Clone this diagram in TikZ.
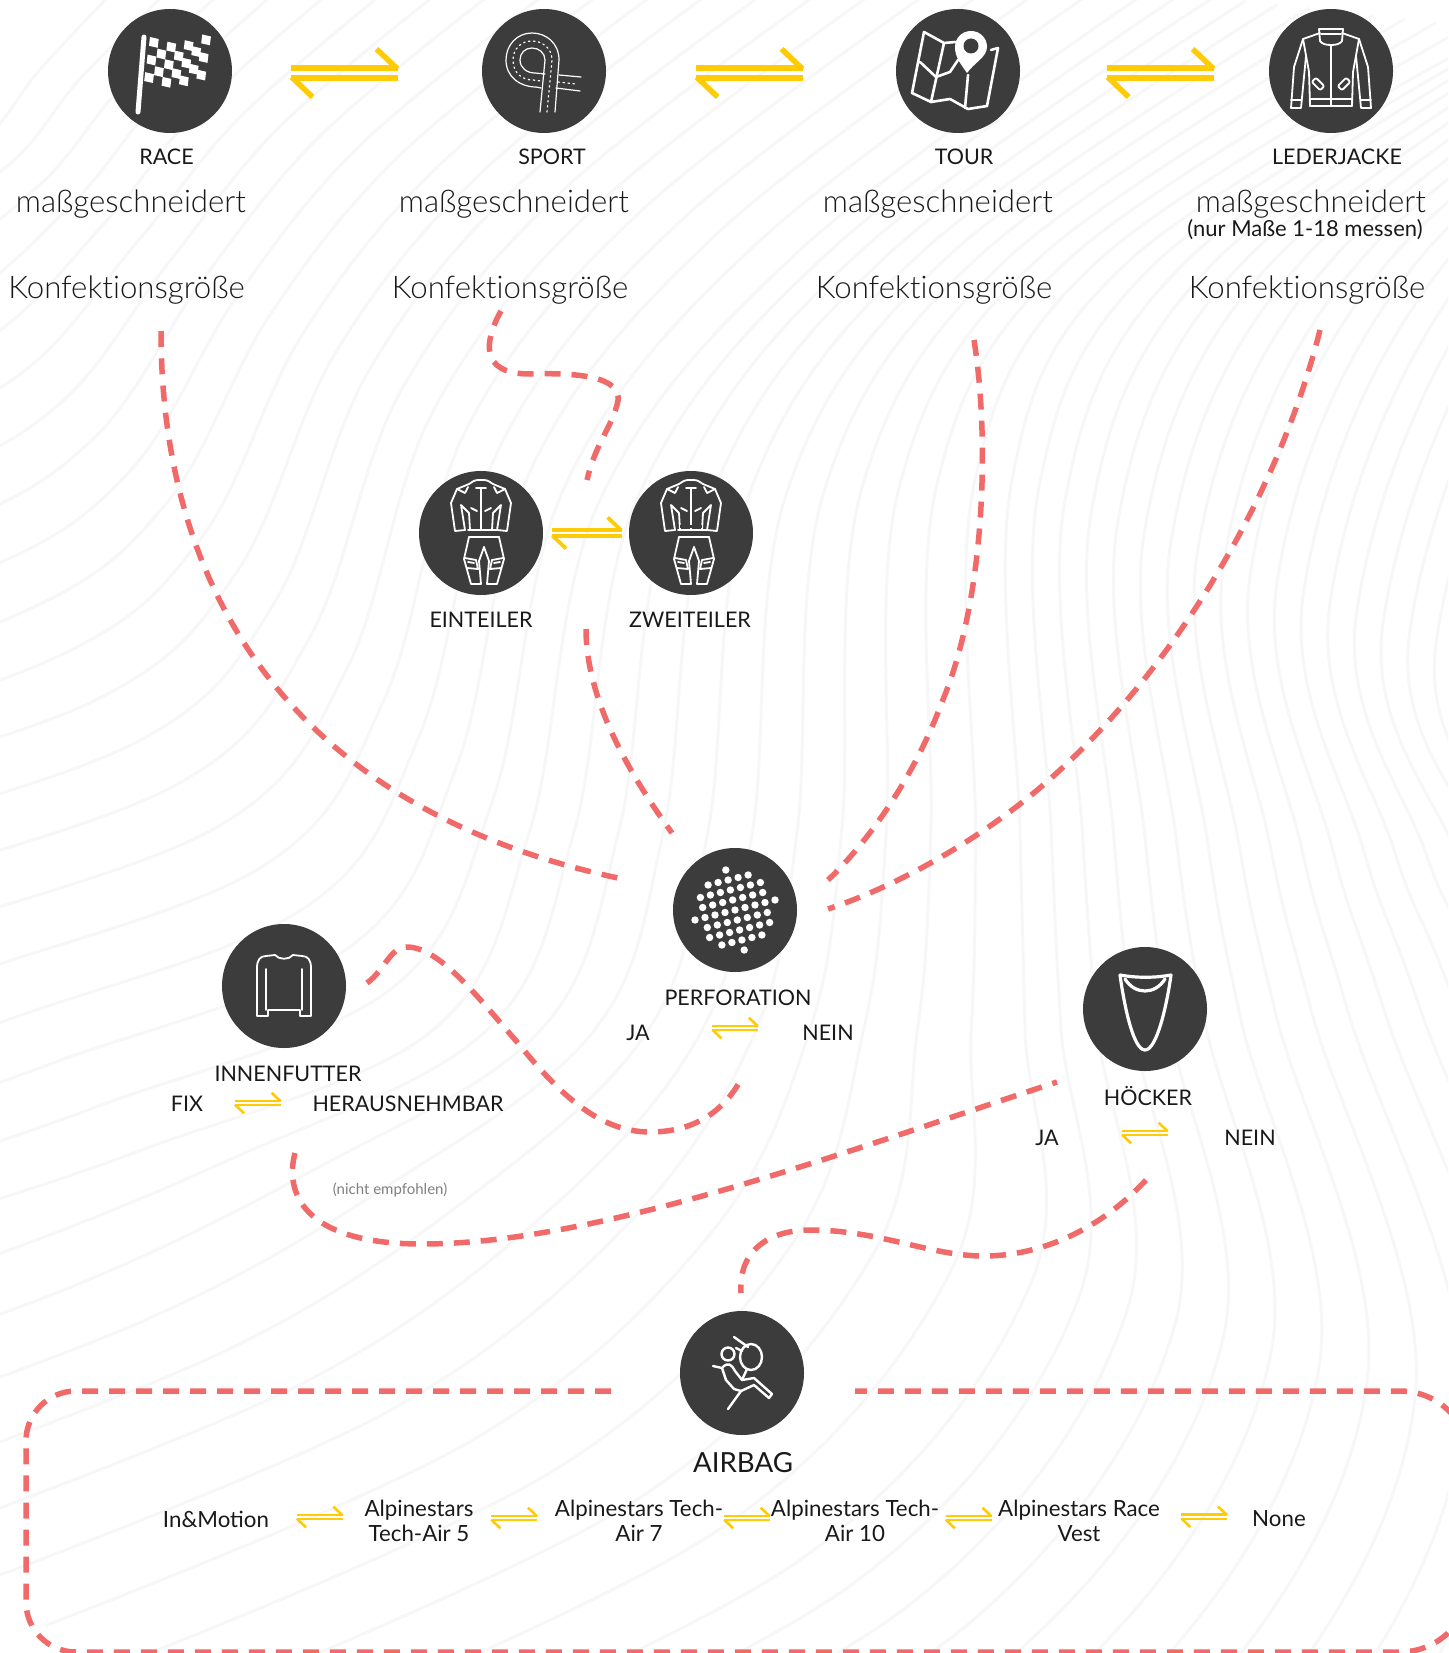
\documentclass[tikz,border=0pt]{standalone}
\usepackage{fontspec}
\setmainfont{Lato}
\newfontfamily\lightfont[Ligatures=NoCommon]{Lato Light}
\usetikzlibrary{calc}

\definecolor{iconbg}{HTML}{3C3C3C}
\definecolor{wavecol}{HTML}{F7F7F7}
\definecolor{routecol}{HTML}{F16A6A}
\definecolor{harpcol}{HTML}{FFCB05}

\tikzset{
	iconbox/.style={circle, fill=iconbg, minimum size=124pt, inner sep=0pt},
	iconline/.style={draw=white, line width=1.8pt, line cap=round, line join=round},
	route/.style={draw=routecol, line width=5.5pt, dash pattern=on 16pt off 11pt},
	caption/.style={inner sep=0pt, align=center, text=black!90, font=\fontsize{21.5}{25}\selectfont},
	optiontext/.style={caption, font=\fontsize{22.3}{25}\selectfont},
	bigtext/.style={inner sep=0pt, text=black!90, font=\lightfont\fontsize{31.2}{34}\selectfont},
	pics/harpoons/.style={code={
		\draw[harpcol] (-53.5,-5) -- (53.5,-5);
		\draw[harpcol] (53,-4) -- (32,-24);
		\draw[harpcol] (-53.5,5) -- (53.5,5);
		\draw[harpcol] (-53,4) -- (-32,24);
	}},
	pics/flagicon/.style={code={
		\draw[iconline, line width=5pt] (-26,-34) -- (-32,41);
		\foreach \i in {0,...,6}
			\foreach \j in {0,...,4} {
				\ifodd\numexpr\i+\j\relax\else
				\pgfmathsetmacro{\fx}{-20+\i*8.7-\j*1.2}
				\pgfmathsetmacro{\fy}{-34+\j*8.8+5*sin(\i*35)}
				\fill[white] (\fx,\fy) -- ++(8.7,2) -- ++(-1,8.8) -- ++(-8.7,-2) -- cycle;
				\fi
			}
	}},
	pics/roadicon/.style={code={
		\draw[iconline, line width=1.2pt] (11,41) -- (15,-11) .. controls (15,-28) and (2,-38) .. (-12,-38) .. controls (-27,-38) and (-38,-26) .. (-38,-11) .. controls (-38,6) and (-24,16) .. (-8,16) -- (-3,17);
		\draw[iconline, line width=1.2pt] (-4,41) -- (1,-11) .. controls (1,-18) and (-5,-23) .. (-12,-23) .. controls (-19,-23) and (-24,-18) .. (-24,-11) .. controls (-24,-3) and (-17,2) .. (-9,2) -- (1,3);
		\draw[iconline, line width=1.2pt, dash pattern=on 1.5pt off 3.5pt] (3,41) -- (8,-11) .. controls (8,-23) and (-2,-30) .. (-12,-30) .. controls (-23,-30) and (-31,-22) .. (-31,-11) .. controls (-31,2) and (-22,9) .. (-11,9) -- (-3,10);
		\draw[iconline, line width=1.2pt] (15,4) -- (37,6) (12,17) -- (36,20);
		\draw[iconline, line width=1.2pt, dash pattern=on 1.5pt off 3.5pt] (14,11) -- (32,13);
	}},
	pics/mapicon/.style={code={
		\draw[iconline, line width=2.6pt] (-3,-29) -- (-14,-28) -- (-34,-39) -- (-46,22) -- (-27,31) -- (-8,28) -- (10,38) -- (29,35) -- (40,-23) -- (33,-21);
		\draw[iconline, line width=2.6pt] (-14,-28) -- (-27,31) (10,4) -- (7,37);
		\draw[iconline, line width=2.6pt] (-38,-9) -- (-22,6) -- (-8,1) -- (0,-11);
		\fill[white] (9,2) .. controls (2,-8) and (-3,-14) .. (-3,-24) .. controls (-3,-33) and (4,-40) .. (13,-40) .. controls (22,-40) and (29,-33) .. (29,-24) .. controls (29,-14) and (16,-8) .. (9,2) -- cycle;
		\fill[iconbg] (13,-25) circle (7.5);
	}},
	pics/jacketicon/.style={code={
		\foreach \s in {1,-1} {
			\begin{scope}[xscale=\s]
				\draw[iconline] (-12,-42) -- (-11,-30) .. controls (-9,-27) and (-5,-26) .. (0,-26);
				\draw[iconline] (-11,-38) -- (-28,-32) -- (-37,-4) -- (-40,37) -- (-30,37) -- (-25,-15);
				\draw[iconline] (-28,-32) -- (-22,1) -- (-21,35);
				\draw[iconline] (-40,29) -- (-30,29);
				\draw[iconline, rotate around={-45:(-13,13)}, rounded corners=2pt] (-19,10) rectangle (-7,16);
			\end{scope}
		}
		\draw[iconline] (-12,-42) -- (12,-42) (-10,-37) -- (10,-37);
		\draw[iconline] (-21,28) rectangle (21,35);
		\draw[iconline] (0,-26) -- (0,35);
	}},
	pics/suiticon/.style={code={
		\foreach \s in {1,-1} {
			\begin{scope}[xscale=\s]
				\draw[iconline] (0,-53) .. controls (-6,-53) .. (-12,-49) -- (-24,-44) -- (-30,-30) -- (-26,-2) -- (-16,-3) -- (-20,-28) -- (-12,-20) -- (-11,-3);
				\draw[iconline] (-24,-44) -- (-16,-40) -- (-13,-46);
				\draw[iconline] (-10,-25) -- (-4,-22);
			\end{scope}
			\begin{scope}[xshift=3pt, xscale=\s]
				\draw[iconline] (-15,4) -- (-20,26) -- (-13,51) -- (-3,51) -- (-5,28) -- (0,14);
				\draw[iconline] (-19,25) -- (-8,27) -- (-6,36) -- (-17,35);
				\draw[iconline] (-16,29) -- (-10,30);
			\end{scope}
		}
		\draw[iconline] (-5,-45) -- (5,-45) (0,-45) -- (0,-4);
		\draw[iconline] (-13,-3) -- (17,-3) (-12,4) -- (18,4);
	}},
	pics/sweatericon/.style={code={
		\draw[iconline] (-27,30) -- (-27,-18) .. controls (-27,-26) and (-24,-30) .. (-18,-30) -- (-9,-31) .. controls (-5,-26) and (5,-26) .. (9,-31) -- (18,-30) .. controls (24,-30) and (27,-26) .. (27,-18) -- (27,30) -- (16,30) -- (16,24) -- (-16,24) -- (-16,30) -- cycle;
		\draw[iconline] (-18,-17) -- (-18,24) (18,-17) -- (18,24);
	}},
	pics/holesicon/.style={code={
		\foreach \i in {-5,...,5}
			\foreach \j in {-5,...,5} {
				\pgfmathsetmacro{\hx}{\i*10+\j*2.3}
				\pgfmathsetmacro{\hy}{-\i*2.5+\j*10}
				\pgfmathparse{\hx*\hx+\hy*\hy<1720?1:0}
				\ifnum\pgfmathresult=1
				\fill[white] (\hx,\hy) circle (3.7);
				\fi
			}
	}},
	pics/humpicon/.style={code={
		\draw[iconline, line width=3.2pt] (-25,-34) .. controls (-21,-5) and (-12,41) .. (0,41) .. controls (12,41) and (22,-5) .. (26,-34) .. controls (10,-31) and (-9,-31) .. (-25,-34) -- cycle;
		\draw[iconline, line width=3.2pt] (-20,-30) .. controls (-10,-14) and (10,-14) .. (20,-30);
	}},
	pics/airbagicon/.style={code={
		\draw[iconline, line width=2.4pt] (-14,-19) circle (6.5);
		\draw[iconline, line width=2.4pt] (9,-16) ellipse (11 and 13);
		\draw[iconline, line width=2.4pt] (-8,-36) -- (6,-26) (-6,-25) -- (0,-22);
		\draw[iconline, line width=2.4pt] (-29,-7) -- (-20,-5) .. controls (-14,-12) and (-10,-8) .. (-7,-2) -- (0,7) -- (12,5) -- (30,21) -- (27,25) -- (12,12) -- (-1,18) -- (-14,36);
		\draw[iconline, line width=2.4pt] (-20,-5) -- (-16,7) -- (-8,16) -- (-1,18);
		\draw[iconline, line width=2.4pt] (0,7) -- (5,-4);
	}}
}

\begin{document}
\begin{tikzpicture}[x=1pt,y=-1pt,>=latex]
	\useasboundingbox (0,0) rectangle (1448,1653);

	% faint contour lines behind everything
	\begin{scope}
		\clip (0,0) rectangle (1448,1653);
		\foreach \k/\a/\b/\c/\d/\e/\f/\g/\h in {
			{0/(60,-10)/(0,60)/(-60,130)/(-200,180)/(-400,200)/(-800,300)/(-1000,400)/(-1200,500)},
			{1/(1150,-10)/(800,250)/(600,500)/(530,830)/(433,1030)/(150,1147)/(-100,1230)/(-400,1320)},
			{2/(1500,30)/(1130,260)/(1012,480)/(1020,830)/(1025,1030)/(1031,1283)/(800,1560)/(300,1800)},
			{3/(2000,-100)/(1600,250)/(1436,644)/(1520,860)/(1600,1000)/(1800,1500)/(1700,1900)/(1500,2200)}}
			\path \a coordinate (wave\k a) \b coordinate (wave\k b) \c coordinate (wave\k c) \d coordinate (wave\k d) \e coordinate (wave\k e) \f coordinate (wave\k f) \g coordinate (wave\k g) \h coordinate (wave\k h);
		\foreach \ka/\kb/\n in {0/1/20,1/2/11,2/3/16}
			\foreach \i in {1,...,\n} {
				\pgfmathsetmacro{\t}{\i/\n}
				\draw[wavecol, line width=3pt] plot[smooth, tension=.6] coordinates {
					($(wave\ka a)!\t!(wave\kb a)$) ($(wave\ka b)!\t!(wave\kb b)$)
					($(wave\ka c)!\t!(wave\kb c)$) ($(wave\ka d)!\t!(wave\kb d)$)
					($(wave\ka e)!\t!(wave\kb e)$) ($(wave\ka f)!\t!(wave\kb f)$)
					($(wave\ka g)!\t!(wave\kb g)$) ($(wave\ka h)!\t!(wave\kb h)$)};
			}
	\end{scope}

	\node [iconbox] (race) at (170,71) {};
	\node [iconbox] (sport) at (544,71) {};
	\node [iconbox] (tour) at (958,71) {};
	\node [iconbox] (jacket) at (1331,71) {};
	\node [iconbox] (onepiece) at (481,533) {};
	\node [iconbox] (twopiece) at (691,533) {};
	\node [iconbox] (perforation) at (735,910) {};
	\node [iconbox] (lining) at (284,986) {};
	\node [iconbox] (hump) at (1145,1009) {};
	\node [iconbox] (airbag) at (742,1373) {};

	\pic at (race) {flagicon};
	\pic at (sport) {roadicon};
	\pic at (tour) {mapicon};
	\pic at (jacket) {jacketicon};
	\pic at (onepiece) {suiticon};
	\pic at (twopiece) {suiticon};
	\draw[iconbg, line width=3pt] ([shift={(-11,-7)}]twopiece.center) -- ([shift={(11,-7)}]twopiece.center);
	\pic at (perforation) {holesicon};
	\pic at (lining) {sweatericon};
	\pic at (hump) {humpicon};
	\pic at (airbag) {airbagicon};

	\node [caption] (raceL) at (166.5,157) {RACE};
	\node [caption] (sportL) at (552,157) {SPORT};
	\node [caption] (tourL) at (964,157) {TOUR};
	\node [caption] (jacketL) at (1337,157) {LEDERJACKE};
	\foreach \n/\x in {A/131,B/514,C/938,D/1311}
		\node [bigtext] (made\n) at (\x,204) {maßgeschneidert};
	\node [caption, font=\fontsize{22}{24}\selectfont] (note) at (1305,230) {(nur Maße 1-18 messen)};
	\foreach \n/\x in {A/126.5,B/510,C/934,D/1307}
		\node [bigtext] (size\n) at (\x,290) {Konfektionsgröße};

	\node [caption] (onepieceL) at (481,620) {EINTEILER};
	\node [caption] (twopieceL) at (690,620) {ZWEITEILER};
	\node [caption] (perforationL) at (738,998) {PERFORATION};
	\node [caption] (perfJa) at (638,1033) {JA};
	\node [caption] (perfNein) at (828,1033) {NEIN};
	\node [caption] (liningL) at (288,1074) {INNENFUTTER};
	\node [caption] (liningFix) at (187,1104) {FIX};
	\node [caption] (liningOut) at (408,1104) {HERAUSNEHMBAR};
	\node [caption, text=black!50, font=\fontsize{15}{17}\selectfont] (notrec) at (390,1190) {(nicht empfohlen)};
	\node [caption] (humpL) at (1148,1096) {HÖCKER};
	\node [caption] (humpJa) at (1047,1138) {JA};
	\node [caption] (humpNein) at (1250,1138) {NEIN};
	\node [caption, font=\fontsize{27.7}{30}\selectfont] (airbagL) at (743,1463) {AIRBAG};
	\node [optiontext] (optA) at (216,1519) {In\&Motion};
	\node [optiontext] (optB) at (419,1521) {Alpinestars\\Tech-Air 5};
	\node [optiontext] (optC) at (639,1521) {Alpinestars Tech-\\Air 7};
	\node [optiontext] (optD) at (855,1521) {Alpinestars Tech-\\Air 10};
	\node [optiontext] (optE) at (1079,1521) {Alpinestars Race\\Vest};
	\node [optiontext] (optF) at (1279,1519) {None};

	\path (race) -- (sport) pic[pos=.45, yshift=-2pt, line width=5.5pt] {harpoons};
	\path (sport) -- (tour) pic[pos=.495, yshift=-2pt, line width=5.5pt] {harpoons};
	\path (tour) -- (jacket) pic[pos=.565, yshift=-2pt, line width=5.5pt] {harpoons};
	\path (onepiece) -- (twopiece) pic[pos=.51, scale=.65, line width=3.8pt] {harpoons};
	\path (perfJa) -- (perfNein) pic[pos=.56, yshift=5pt, scale=.43, line width=2.6pt] {harpoons};
	\path (liningFix) -- (liningOut) pic[pos=.5, yshift=1pt, scale=.43, line width=2.6pt] {harpoons};
	\path (humpJa) -- (humpNein) pic[pos=.52, yshift=5pt, scale=.43, line width=2.6pt] {harpoons};
	\foreach \a/\b/\p in {optA/optB/.53,optB/optC/.5,optC/optD/.5,optD/optE/.5,optE/optF/.48}
		\path (\a) -- (\b) pic[pos=\p, yshift=3pt, scale=.43, line width=2.6pt] {harpoons};

	% free ends of the routes
	\coordinate (r1a) at (161,331);
	\coordinate (r1b) at (618,878);
	\coordinate (r2a) at (501,311);
	\coordinate (r2b) at (587,480);
	\coordinate (r3a) at (586,629);
	\coordinate (r3b) at (672,833);
	\coordinate (r4a) at (974,340);
	\coordinate (r4b) at (828,880);
	\coordinate (r5a) at (1320,330);
	\coordinate (r5b) at (828,909);
	\coordinate (r6a) at (367,983);
	\coordinate (r6b) at (739,1083);
	\coordinate (r7a) at (295,1153);
	\coordinate (r7b) at (1057,1082);
	\coordinate (r8a) at (1146,1180);
	\coordinate (r8b) at (741,1293);
	\coordinate (r9a) at (611,1391);
	\coordinate (r9b) at (855,1391);

	\draw[route, dash pattern=on 16pt off 11.3pt] (r1a) .. controls (161,600) and (300,810) .. (r1b);
	\draw[route] (r2a) .. controls (485,340) and (478,374) .. (530,374) .. controls (590,372) and (625,380) .. (617,405) .. controls (610,430) and (595,445) .. (r2b);
	\draw[route] (r3a) .. controls (586,700) and (630,775) .. (r3b);
	\draw[route] (r4a) .. controls (990,440) and (985,600) .. (942,702) .. controls (915,775) and (870,840) .. (r4b);
	\draw[route] (r5a) .. controls (1280,490) and (1180,660) .. (1060,770) .. controls (990,835) and (900,885) .. (r5b);
	\draw[route] (r6a) .. controls (385,970) and (390,947) .. (407,947) .. controls (440,947) and (480,1000) .. (518,1043) .. controls (560,1095) and (600,1132) .. (650,1132) .. controls (690,1132) and (720,1115) .. (r6b);
	\draw[route] (r7a) .. controls (285,1190) and (300,1244) .. (422,1244) .. controls (600,1244) and (850,1150) .. (r7b);
	\draw[route] (r8a) .. controls (1100,1230) and (1040,1256) .. (984,1256) .. controls (930,1256) and (880,1230) .. (810,1230) .. controls (770,1230) and (738,1250) .. (r8b);
	\draw[route, rounded corners=50pt] (r9a) -- (26,1391) -- (26,1652) [rounded corners=70pt] -- (1470,1652) -- (1470,1391) -- (r9b);
\end{tikzpicture}
\end{document}
